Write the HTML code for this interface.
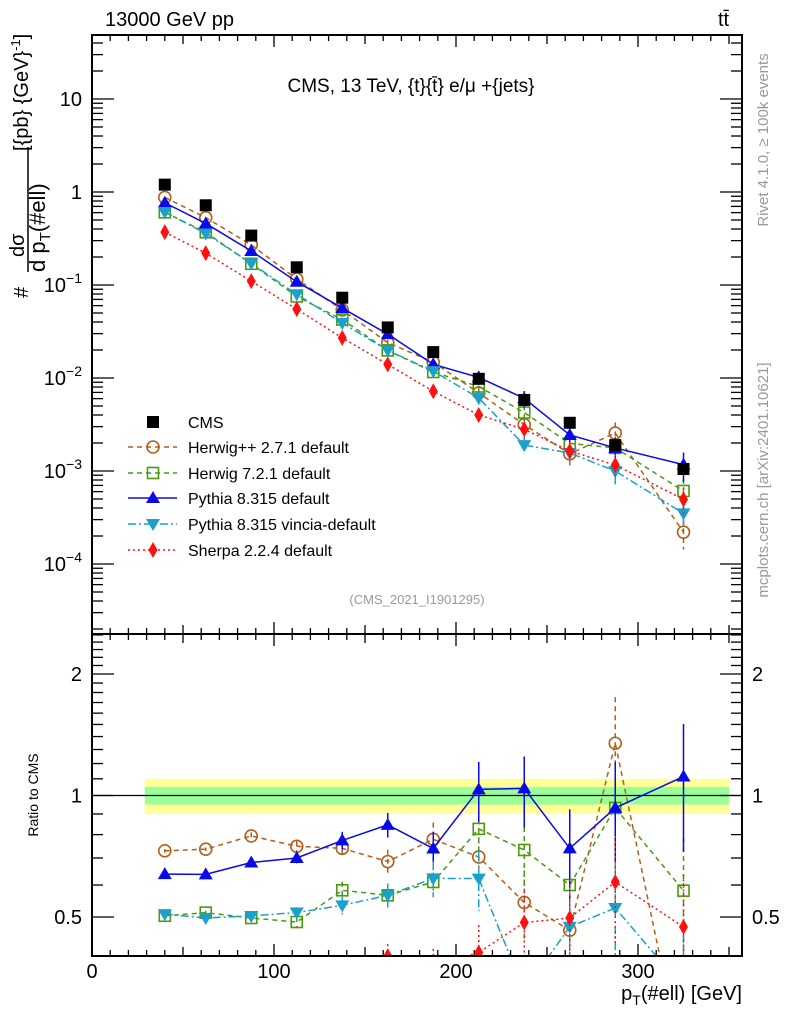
<!DOCTYPE html>
<html><head><meta charset="utf-8"><style>
html,body{margin:0;padding:0;background:#fff;overflow:hidden;width:786px;height:1024px;}
svg{display:block;font-family:"Liberation Sans",sans-serif;}
</style></head><body>
<svg id="chart" width="786" height="1024" viewBox="0 0 786 1024" xmlns="http://www.w3.org/2000/svg">
<defs>
<clipPath id="clipTop"><rect x="92" y="35" width="650" height="599"/></clipPath>
<clipPath id="clipBot"><rect x="92" y="634" width="650" height="322"/></clipPath>
</defs>
<g id="bands" clip-path="url(#clipBot)"></g>
<g id="axes"></g>
<g id="seriesTop" clip-path="url(#clipTop)"></g>
<g id="seriesBot" clip-path="url(#clipBot)"></g>
<rect x="92" y="35" width="650" height="599" fill="none" stroke="#000" stroke-width="2"/>
<rect x="92" y="634" width="650" height="322" fill="none" stroke="#000" stroke-width="2"/>
<text x="105" y="26" font-size="20">13000 GeV pp</text>
<text x="718" y="26" font-size="20">tt̄</text>
<text x="411" y="92" font-size="19" text-anchor="middle">CMS, 13 TeV, {t}{t̄} e/μ +{jets}</text>
<text x="417" y="604" font-size="13" fill="#999" text-anchor="middle">(CMS_2021_I1901295)</text>
<text transform="translate(768,140) rotate(-90)" font-size="15" fill="#999" text-anchor="middle">Rivet 4.1.0, ≥ 100k events</text>
<text transform="translate(768,480) rotate(-90)" font-size="15" fill="#999" text-anchor="middle">mcplots.cern.ch [arXiv:2401.10621]</text>
<g font-size="20">
<text transform="translate(28,298) rotate(-90)">#</text>
<text transform="translate(24,257) rotate(-90)">dσ</text>
<line x1="28" y1="272" x2="28" y2="147" stroke="#000" stroke-width="1.5"/>
<text transform="translate(45,272) rotate(-90)" font-size="22">d p<tspan font-size="15" dy="5">T</tspan><tspan dy="-5">(#ell)</tspan></text>
<text transform="translate(28,151) rotate(-90)">[{pb} {GeV}<tspan font-size="13" dy="-8">-1</tspan><tspan dy="8">]</tspan></text>
</g>
<text transform="translate(38,795) rotate(-90)" font-size="14" text-anchor="middle">Ratio to CMS</text>
<text x="742" y="1000" font-size="20" text-anchor="end">p<tspan font-size="14" dy="5">T</tspan><tspan dy="-5">(#ell) [GeV]</tspan></text>
<g id="legend"></g>
</svg>
<script>
const xs = [40, 62.5, 87.5, 112.5, 137.5, 162.5, 187.5, 212.5, 237.5, 262.5, 287.5, 325];
const cms = [1.2, 0.72, 0.34, 0.155, 0.073, 0.035, 0.019, 0.0098, 0.0058, 0.0033, 0.0019, 0.00105];
const herwigpp = [0.875, 0.53, 0.27, 0.116, 0.054, 0.024, 0.0148, 0.0069, 0.00315, 0.00153, 0.00256, 0.00022];
const herwig7 = [0.604, 0.369, 0.169, 0.0753, 0.0425, 0.0198, 0.0116, 0.0081, 0.00425, 0.00198, 0.00177, 0.00061];
const pythia = [0.766, 0.459, 0.232, 0.1085, 0.0565, 0.0296, 0.01404, 0.01015, 0.00604, 0.00244, 0.00177, 0.00117];
const vincia = [0.61, 0.358, 0.171, 0.0795, 0.039, 0.0198, 0.01184, 0.0061, 0.0019, 0.00156, 0.001, 0.00035];
const sherpa = [0.37, 0.22, 0.11, 0.055, 0.027, 0.014, 0.0072, 0.0040, 0.00281, 0.00164, 0.00116, 0.000496];
const relErr = [0.01, 0.01, 0.02, 0.03, 0.05, 0.07, 0.1, 0.17, 0.2, 0.25, 0.3, 0.35];
const xTicks = [0, 100, 200, 300];
const yTopTicks = [10, 1, 0.1, 0.01, 0.001, 0.0001];
const yTopBase = ["10", "1", "10", "10", "10", "10"];
const yTopExp = ["", "", "−1", "−2", "−3", "−4"];
const ratioTicks = [0.5, 1, 2];
const ratioLabels = ["0.5", "1", "2"];
const bandInner = 0.05, bandOuter = 0.10;

const NS = "http://www.w3.org/2000/svg";
const TOP0 = 35, MID = 634, BOT = 956;
function X(v){ return 92 + v * 1.82; }
function YT(v){ return 192 - Math.log10(v) * 93; }
function YR(v){ return 795.5 - Math.log10(v) * 403.5; }
function mk(tag, attrs, parent){ const e = document.createElementNS(NS, tag); for (const k in attrs) e.setAttribute(k, attrs[k]); parent.appendChild(e); return e; }

const axes = document.getElementById('axes');
for (let v = 0; v <= 350; v += 10) {
  const major = v % 100 === 0, len = major ? 12 : (v % 50 === 0 ? 9 : 6);
  [[TOP0,1],[MID,-1],[MID,1],[BOT,-1]].forEach(([y0,d]) => {
    const t = mk('line', {x1:X(v), x2:X(v), y1:y0, y2:y0 + d*len, stroke:'#000', 'stroke-width':1.3}, axes);
    
    
  });
}
xTicks.forEach(v => {
  const t = mk('text', {x:X(v), y:978, 'font-size':20, 'text-anchor':'middle'}, axes);
  t.textContent = v;
  
  
});
for (let e = -5; e <= 1; e++) {
  for (let m = 1; m <= 9; m++) {
    const v = m * Math.pow(10, e), y = YT(v);
    if (y < TOP0 || y > MID) continue;
    const len = m === 1 ? 22 : 11;
    [[92,1],[742,-1]].forEach(([x0,d]) => {
      const t = mk('line', {x1:x0, x2:x0 + d*len, y1:y, y2:y, stroke:'#000', 'stroke-width':1.3}, axes);
      
      
    });
  }
}
yTopTicks.forEach((v, i) => {
  const t = mk('text', {x:82, y:YT(v) + 7, 'font-size':20, 'text-anchor':'end'}, axes);
  t.textContent = yTopBase[i];
  if (yTopExp[i]) { const s = mk('tspan', {'font-size':14, dy:-9}, t); s.textContent = yTopExp[i]; }
  
  
});
for (let k = 3; k <= 26; k++) {
  const vv = k / 10, y = YR(vv);
  if (y < MID || y > BOT) continue;
  const len = (k === 5 || k === 10 || k === 20) ? 22 : 11;
  [[92,1],[742,-1]].forEach(([x0,d]) => {
    const t = mk('line', {x1:x0, x2:x0 + d*len, y1:y, y2:y, stroke:'#000', 'stroke-width':1.3}, axes);
    
    
  });
}
ratioTicks.forEach((v, i) => {
  [[82,'end'],[752,'start']].forEach(([x,a]) => {
    const t = mk('text', {x:x, y:YR(v) + 7, 'font-size':20, 'text-anchor':a}, axes);
    t.textContent = ratioLabels[i];
    
    
  });
});
const bands = document.getElementById('bands');
const b1 = mk('rect', {x:X(29), width:X(350)-X(29), y:YR(1+bandOuter), height:YR(1-bandOuter)-YR(1+bandOuter), fill:'#ffff99'}, bands);


const b2 = mk('rect', {x:X(29), width:X(350)-X(29), y:YR(1+bandInner), height:YR(1-bandInner)-YR(1+bandInner), fill:'#99ff99'}, bands);


const ref = mk('line', {x1:92, x2:742, y1:YR(1), y2:YR(1), stroke:'#000', 'stroke-width':1.2}, bands);



function marker(g, type, x, y, color) {
  let e;
  if (type === 'square') e = mk('rect', {x:x-6, y:y-6, width:12, height:12, fill:color}, g);
  else if (type === 'osquare') e = mk('rect', {x:x-5.5, y:y-5.5, width:11, height:11, fill:'none', stroke:color, 'stroke-width':1.6}, g);
  else if (type === 'ocircle') e = mk('circle', {cx:x, cy:y, r:6, fill:'none', stroke:color, 'stroke-width':1.6}, g);
  else if (type === 'tri') e = mk('polygon', {points:`${x},${y-7} ${x-7},${y+5} ${x+7},${y+5}`, fill:color}, g);
  else if (type === 'itri') e = mk('polygon', {points:`${x},${y+7} ${x-7},${y-5} ${x+7},${y-5}`, fill:color}, g);
  else e = mk('polygon', {points:`${x},${y-8} ${x-4.5},${y} ${x},${y+8} ${x+4.5},${y}`, fill:color}, g);
  return e;
}
const series = [
  {name:'herwigpp', label:'Herwig++ 2.7.1 default', vals:herwigpp, color:'#b35f1a', dash:'5,4', m:'ocircle'},
  {name:'herwig7', label:'Herwig 7.2.1 default', vals:herwig7, color:'#4a9a10', dash:'5,4', m:'osquare'},
  {name:'pythia', label:'Pythia 8.315 default', vals:pythia, color:'#0a0ae6', dash:'', m:'tri'},
  {name:'vincia', label:'Pythia 8.315 vincia-default', vals:vincia, color:'#1aa0cc', dash:'8,3,2,3', m:'itri'},
  {name:'sherpa', label:'Sherpa 2.2.4 default', vals:sherpa, color:'#ff1010', dash:'2,3', m:'diamond'}
];
const gT = document.getElementById('seriesTop'), gB = document.getElementById('seriesBot');
series.forEach(s => {
  ['top','bot'].forEach(panel => {
    const parent = panel === 'top' ? gT : gB;
    const g = mk('g', {}, parent);
    
    
    const pts = s.vals.map((v,i) => [X(xs[i]), panel === 'top' ? YT(v) : YR(v / cms[i])]);
    const line = mk('polyline', {points:pts.map(p=>p.join(',')).join(' '), fill:'none', stroke:s.color, 'stroke-width':1.5, 'stroke-dasharray':s.dash}, g);
    
    
    s.vals.forEach((v,i) => {
      const r = panel === 'top' ? v : v / cms[i];
      const f = panel === 'top' ? YT : YR;
      const hi = f(r * (1 + relErr[i])), lo = f(Math.max(r * (1 - relErr[i]), 1e-6));
      const eb = mk('line', {x1:pts[i][0], x2:pts[i][0], y1:hi, y2:lo, stroke:s.color, 'stroke-width':1.5, 'stroke-dasharray':s.dash}, g);
      
      
      const m = marker(g, s.m, pts[i][0], pts[i][1], s.color);
      
      
    });
  });
});
const gc = mk('g', {}, gT);


cms.forEach((v,i) => {
  const m = marker(gc, 'square', X(xs[i]), YT(v), '#000');
  
  
});
const lg = document.getElementById('legend');
const rowsY = [422, 447, 473, 498, 524, 550];
const entries = [{label:'CMS', color:'#000', dash:null, m:'square'}].concat(series);
entries.forEach((s, i) => {
  const g = mk('g', {}, lg);
  
  
  const y = rowsY[i];
  if (s.dash !== null) mk('line', {x1:128, x2:177, y1:y, y2:y, stroke:s.color, 'stroke-width':1.5, 'stroke-dasharray':s.dash}, g);
  marker(g, s.m, 153, y, s.color);
  const t = mk('text', {x:188, y:y + 6, 'font-size':16}, g);
  t.textContent = s.label;
});
</script>
</body></html>
